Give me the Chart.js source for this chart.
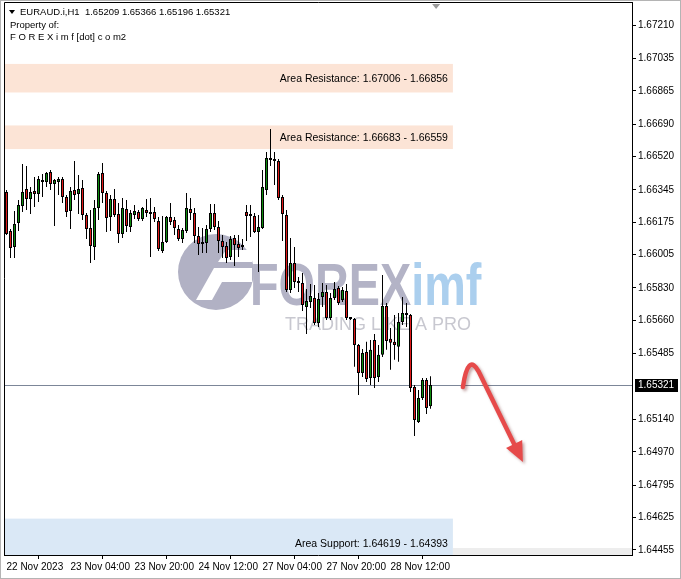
<!DOCTYPE html>
<html>
<head>
<meta charset="utf-8">
<title>EURAUD.i H1</title>
<script src="https://cdn.jsdelivr.net/npm/chart.js@4.4.0/dist/chart.umd.min.js"></script>
<style>
  html, body { margin: 0; padding: 0; background: #fff; }
  #wrap { position: relative; width: 681px; height: 579px; }
</style>
</head>
<body>
<div id="wrap"><canvas id="chart"></canvas></div>
<script>
// hourly candles, 22 Nov 12:00 -> 28 Nov 22:00
const opens = [
  1.66333, 1.66129, 1.66045, 1.66171, 1.66260, 1.66349, 1.66297, 1.66339, 1.66323, 1.66386,
  1.66386, 1.66438, 1.66375, 1.66386, 1.66402, 1.66307, 1.66234, 1.66344, 1.66323, 1.66354,
  1.66213, 1.66144, 1.66045, 1.66249, 1.66433, 1.66328, 1.66202, 1.66297, 1.66218, 1.66113,
  1.66244, 1.66150, 1.66213, 1.66228, 1.66192, 1.66239, 1.66223, 1.66228, 1.66181, 1.66024,
  1.66071, 1.66202, 1.66186, 1.66139, 1.66087, 1.66129, 1.66244, 1.66223, 1.66102, 1.66061,
  1.66066, 1.66139, 1.66223, 1.66150, 1.66076, 1.66050, 1.65992, 1.66092, 1.66061, 1.66045,
  1.66228, 1.66213, 1.66207, 1.66123, 1.66144, 1.66344, 1.66512, 1.66507, 1.66496, 1.66307,
  1.66213, 1.65819, 1.65961, 1.65861, 1.65856, 1.65730, 1.65756, 1.65777, 1.65646, 1.65782,
  1.65809, 1.65672, 1.65777, 1.65830, 1.65767, 1.65814, 1.65672, 1.65667, 1.65531, 1.65384,
  1.65494, 1.65357, 1.65557, 1.65363, 1.65479, 1.65735, 1.65563, 1.65547, 1.65521, 1.65651,
  1.65688, 1.65688, 1.65310, 1.65126, 1.65252, 1.65347, 1.65209
];
const highs = [
  1.66344, 1.66139, 1.66234, 1.66291, 1.66480, 1.66470, 1.66360, 1.66412, 1.66417, 1.66428,
  1.66438, 1.66449, 1.66402, 1.66412, 1.66412, 1.66318, 1.66360, 1.66496, 1.66423, 1.66396,
  1.66223, 1.66239, 1.66291, 1.66438, 1.66486, 1.66339, 1.66318, 1.66349, 1.66276, 1.66302,
  1.66291, 1.66239, 1.66265, 1.66239, 1.66255, 1.66297, 1.66302, 1.66255, 1.66202, 1.66207,
  1.66207, 1.66276, 1.66202, 1.66160, 1.66144, 1.66328, 1.66302, 1.66249, 1.66150, 1.66144,
  1.66160, 1.66270, 1.66270, 1.66181, 1.66108, 1.66071, 1.66102, 1.66108, 1.66108, 1.66087,
  1.66265, 1.66265, 1.66223, 1.66213, 1.66449, 1.66543, 1.66664, 1.66543, 1.66507, 1.66318,
  1.66239, 1.66092, 1.66045, 1.65887, 1.65908, 1.65824, 1.65851, 1.65845, 1.65803, 1.65856,
  1.65845, 1.65803, 1.65861, 1.65840, 1.65835, 1.65851, 1.65677, 1.65672, 1.65536, 1.65510,
  1.65547, 1.65557, 1.65588, 1.65531, 1.65898, 1.65751, 1.65620, 1.65688, 1.65698, 1.65782,
  1.65751, 1.65693, 1.65321, 1.65294, 1.65357, 1.65357, 1.65366
];
const lows = [
  1.66108, 1.65987, 1.65987, 1.66129, 1.66228, 1.66239, 1.66218, 1.66255, 1.66281, 1.66307,
  1.66360, 1.66344, 1.66155, 1.66318, 1.66276, 1.66202, 1.66139, 1.66291, 1.66218, 1.66186,
  1.66087, 1.65961, 1.65977, 1.66186, 1.66276, 1.66123, 1.66129, 1.66202, 1.66066, 1.66092,
  1.66123, 1.66123, 1.66192, 1.66181, 1.66181, 1.66202, 1.65992, 1.66176, 1.66024, 1.66013,
  1.66066, 1.66160, 1.66108, 1.66076, 1.66066, 1.66118, 1.66186, 1.66066, 1.66003, 1.66013,
  1.66013, 1.66123, 1.66134, 1.66013, 1.65987, 1.65961, 1.65977, 1.65945, 1.65992, 1.66029,
  1.66076, 1.66097, 1.66118, 1.65914, 1.66139, 1.66318, 1.66470, 1.66370, 1.66291, 1.66076,
  1.65809, 1.65803, 1.65830, 1.65809, 1.65709, 1.65588, 1.65725, 1.65635, 1.65625, 1.65730,
  1.65662, 1.65662, 1.65767, 1.65740, 1.65756, 1.65662, 1.65662, 1.65416, 1.65268, 1.65363,
  1.65336, 1.65321, 1.65305, 1.65336, 1.65468, 1.65505, 1.65401, 1.65453, 1.65442, 1.65635,
  1.65625, 1.65284, 1.65053, 1.65121, 1.65242, 1.65168, 1.65196
];
const closes = [
  1.66113, 1.66040, 1.66165, 1.66265, 1.66333, 1.66297, 1.66333, 1.66323, 1.66402, 1.66396,
  1.66433, 1.66375, 1.66396, 1.66402, 1.66307, 1.66228, 1.66339, 1.66318, 1.66349, 1.66213,
  1.66139, 1.66050, 1.66249, 1.66428, 1.66328, 1.66197, 1.66297, 1.66213, 1.66113, 1.66249,
  1.66155, 1.66223, 1.66234, 1.66192, 1.66249, 1.66223, 1.66218, 1.66192, 1.66034, 1.66071,
  1.66202, 1.66176, 1.66144, 1.66087, 1.66134, 1.66249, 1.66223, 1.66102, 1.66061, 1.66066,
  1.66139, 1.66223, 1.66150, 1.66076, 1.66045, 1.65987, 1.66087, 1.66055, 1.66040, 1.66050,
  1.66207, 1.66207, 1.66123, 1.66150, 1.66360, 1.66512, 1.66501, 1.66496, 1.66302, 1.66218,
  1.65819, 1.65961, 1.65861, 1.65856, 1.65740, 1.65761, 1.65788, 1.65646, 1.65772, 1.65809,
  1.65672, 1.65777, 1.65824, 1.65751, 1.65819, 1.65672, 1.65667, 1.65531, 1.65384, 1.65489,
  1.65352, 1.65505, 1.65357, 1.65479, 1.65735, 1.65552, 1.65542, 1.65531, 1.65651, 1.65698,
  1.65693, 1.65305, 1.65137, 1.65252, 1.65347, 1.65200, 1.65321
];

const timeTickIndex = [0, 16, 32, 48, 64, 80, 96];
const timeTickLabels = ['22 Nov 2023', '23 Nov 04:00', '23 Nov 20:00', '24 Nov 12:00', '27 Nov 04:00', '27 Nov 20:00', '28 Nov 12:00'];
const priceTicks = [1.67210, 1.67035, 1.66865, 1.66690, 1.66520, 1.66345, 1.66175, 1.66005,
                    1.65830, 1.65660, 1.65485, 1.65140, 1.64970, 1.64795, 1.64625, 1.64455];

const zoneNames = ['Area Resistance', 'Area Resistance', 'Area Support'];
const zoneTops = [1.67006, 1.66683, 1.64619];
const zoneBottoms = [1.66856, 1.66559, 1.64393];

const symbolName = 'EURAUD.i,H1';

// ---- look ----
const zoneColors = ['#fce4d6', '#fce4d6', '#dae8f6'];
const zoneEndIndex = 111.6;
const bullColor = '#0e8c0e';
const bearColor = '#e01818';
const FONT = '"Liberation Sans", Arial, sans-serif';

Chart.defaults.font.family = FONT;
Chart.defaults.font.size = 10;
Chart.defaults.color = '#000';

const last = closes.length - 1;
const wickData = lows.map((l, i) => ({ x: i, y: [l, highs[i]] }));
const bodyData = opens.map((o, i) => ({ x: i, y: [o, closes[i]] }));
const bodyColors = opens.map((o, i) => closes[i] >= o ? bullColor : bearColor);

const overlay = {
    id: 'overlay',
    beforeDatasetsDraw(chart) {
        const { ctx, chartArea: a, scales: { x, y } } = chart;
        ctx.save();
        ctx.beginPath();
        ctx.rect(a.left, a.top, a.width, a.height);
        ctx.clip();

        // zones
        const xr = x.getPixelForValue(zoneEndIndex);
        ctx.fillStyle = '#ededed';
        ctx.fillRect(xr, y.getPixelForValue(1.64465), a.right - xr, a.bottom);
        zoneTops.forEach((top, i) => {
            const y1 = y.getPixelForValue(top);
            const y2 = y.getPixelForValue(zoneBottoms[i]);
            ctx.fillStyle = zoneColors[i];
            ctx.fillRect(a.left, y1, xr - a.left, y2 - y1);
            ctx.fillStyle = '#000';
            ctx.font = '10.5px ' + FONT;
            ctx.textAlign = 'right';
            ctx.textBaseline = 'middle';
            let mid = (y1 + y2) / 2 + 1;
            if (y2 > a.bottom) mid = a.bottom - 11;
            ctx.fillText(zoneNames[i] + ': ' + top.toFixed(5) + ' - ' + zoneBottoms[i].toFixed(5), xr - 5, mid);
        });

        // watermark
        ctx.fillStyle = '#b1b1c4';
        ctx.beginPath();
        ctx.arc(216, 272, 38, 0, Math.PI * 2);
        ctx.fill();
        ctx.fillStyle = '#fff';
        ctx.beginPath();
        ctx.moveTo(196, 300); ctx.lineTo(214, 268); ctx.lineTo(252, 268);
        ctx.lineTo(252, 282); ctx.lineTo(222, 282); ctx.lineTo(212, 300);
        ctx.closePath();
        ctx.fill();
        ctx.beginPath();
        ctx.moveTo(218, 262); ctx.lineTo(226, 250); ctx.lineTo(252, 250); ctx.lineTo(252, 262);
        ctx.closePath();
        ctx.fill();

        ctx.textAlign = 'left';
        ctx.textBaseline = 'alphabetic';
        ctx.font = 'bold 60px ' + FONT;
        ctx.save();
        ctx.translate(250, 305);
        ctx.scale(0.78, 1);
        ctx.fillStyle = '#b3b3c6';
        ctx.fillText('FOREX', 0, 0);
        const w = ctx.measureText('FOREX').width;
        ctx.fillStyle = '#abcfee';
        ctx.fillText('imf', w, 0);
        ctx.restore();
        ctx.font = '18px ' + FONT;
        ctx.fillStyle = '#c8c8d0';
        ctx.fillText('TRADING LIKE A PRO', 285, 330);

        // current price line
        const yp = Math.round(y.getPixelForValue(closes[last])) + 0.5;
        ctx.strokeStyle = '#7c8698';
        ctx.lineWidth = 1;
        ctx.beginPath();
        ctx.moveTo(a.left, yp);
        ctx.lineTo(a.right, yp);
        ctx.stroke();
        ctx.restore();
    },
    afterDraw(chart) {
        const { ctx, chartArea: a, scales: { x, y } } = chart;
        ctx.save();

        // frames
        ctx.strokeStyle = '#000';
        ctx.lineWidth = 1;
        ctx.beginPath();
        ctx.moveTo(a.left + 0.5, a.bottom);
        ctx.lineTo(a.left + 0.5, a.top + 0.5);
        ctx.lineTo(a.right, a.top + 0.5);
        ctx.stroke();
        ctx.strokeStyle = '#b4b4b4';
        ctx.strokeRect(0.5, 0.5, chart.width - 1, chart.height - 1);

        // chart shift marker
        const sx = x.getPixelForValue(opens.length + 0.4);
        ctx.fillStyle = '#9a9a9a';
        ctx.beginPath();
        ctx.moveTo(sx - 4, a.top + 2); ctx.lineTo(sx + 4, a.top + 2); ctx.lineTo(sx, a.top + 7);
        ctx.closePath();
        ctx.fill();

        // arrow
        const S = [x.getPixelForValue(114.1), y.getPixelForValue(1.65310)];
        const C = [x.getPixelForValue(115.4), y.getPixelForValue(1.65494)];
        const B = [x.getPixelForValue(118.1), y.getPixelForValue(1.65389)];
        const T = [x.getPixelForValue(129.1), y.getPixelForValue(1.64916)];
        const dx = T[0] - B[0], dy = T[1] - B[1], len = Math.hypot(dx, dy);
        const ux = dx / len, uy = dy / len;
        const bx = T[0] - 20 * ux, by = T[1] - 20 * uy;
        ctx.shadowColor = 'rgba(90,0,0,0.35)';
        ctx.shadowBlur = 3;
        ctx.shadowOffsetX = 2;
        ctx.shadowOffsetY = 2;
        ctx.strokeStyle = '#e64a4a';
        ctx.fillStyle = '#e64a4a';
        ctx.lineWidth = 4.5;
        ctx.lineCap = 'round';
        ctx.lineJoin = 'round';
        ctx.beginPath();
        ctx.moveTo(S[0], S[1]);
        ctx.quadraticCurveTo(C[0], C[1], B[0], B[1]);
        ctx.lineTo(bx + 2 * ux, by + 2 * uy);
        ctx.stroke();
        ctx.beginPath();
        ctx.moveTo(T[0], T[1]);
        ctx.lineTo(bx - 9 * uy, by + 9 * ux);
        ctx.lineTo(bx + 9 * uy, by - 9 * ux);
        ctx.closePath();
        ctx.fill();
        ctx.shadowColor = 'transparent';

        // current price box
        const yp = Math.round(y.getPixelForValue(closes[last]));
        ctx.fillStyle = '#000';
        ctx.fillRect(a.right + 3, yp - 6, 43, 13);
        ctx.fillStyle = '#fff';
        ctx.font = '10px ' + FONT;
        ctx.textAlign = 'left';
        ctx.textBaseline = 'middle';
        ctx.fillText(closes[last].toFixed(5), a.right + 6, yp + 0.5);

        // header
        ctx.fillStyle = '#000';
        ctx.beginPath();
        ctx.moveTo(9, 10); ctx.lineTo(15, 10); ctx.lineTo(12, 14);
        ctx.closePath();
        ctx.fill();
        ctx.font = '9.5px ' + FONT;
        const hdr = symbolName + '  ' + [opens[last], highs[last], lows[last], closes[last]].map(v => v.toFixed(5)).join(' ');
        ctx.fillText(hdr, 20, 12);
        ctx.fillText('Property of:', 10, 25);
        ctx.fillText('F O R E X i m f [dot] c o m2', 10, 37);
        ctx.restore();
    }
};

new Chart(document.getElementById('chart').getContext('2d'), {
    type: 'bar',
    data: {
        datasets: [
            {
                label: 'wick',
                data: wickData,
                backgroundColor: '#000',
                borderWidth: 0,
                barThickness: 1,
                minBarLength: 1,
                grouped: false,
                inflateAmount: 0,
                order: 2
            },
            {
                label: 'body',
                data: bodyData,
                backgroundColor: bodyColors,
                borderColor: '#000',
                borderWidth: 1,
                borderSkipped: false,
                barThickness: 3,
                minBarLength: 2,
                grouped: false,
                inflateAmount: 0,
                order: 1
            }
        ]
    },
    options: {
        responsive: true,
        maintainAspectRatio: false,
        animation: false,
        events: [],
        layout: { padding: { left: 4, top: 2, right: 0, bottom: 0 } },
        plugins: { legend: { display: false }, tooltip: { enabled: false } },
        scales: {
            x: {
                type: 'linear',
                min: -0.625,
                max: 156.375,
                offset: false,
                afterBuildTicks: s => { s.ticks = timeTickIndex.map(v => ({ value: v })); },
                afterFit: s => { s.height = 24; s.paddingLeft = 0; s.paddingRight = 0; },
                ticks: {
                    autoSkip: false,
                    maxRotation: 0,
                    align: 'start',
                    padding: 2,
                    callback: v => timeTickLabels[timeTickIndex.indexOf(v)]
                },
                grid: { drawOnChartArea: false, tickLength: 4, tickColor: '#000' },
                border: { color: '#000' }
            },
            y: {
                position: 'right',
                min: 1.64428,
                max: 1.67331,
                afterBuildTicks: s => { s.ticks = priceTicks.map(v => ({ value: v })); },
                afterFit: s => { s.width = 49; s.paddingTop = 0; s.paddingBottom = 0; },
                ticks: {
                    autoSkip: false,
                    padding: 2,
                    callback: v => v.toFixed(5)
                },
                grid: { drawOnChartArea: false, tickLength: 4, tickColor: '#000' },
                border: { color: '#000' }
            }
        }
    },
    plugins: [overlay]
});
</script>
</body>
</html>
